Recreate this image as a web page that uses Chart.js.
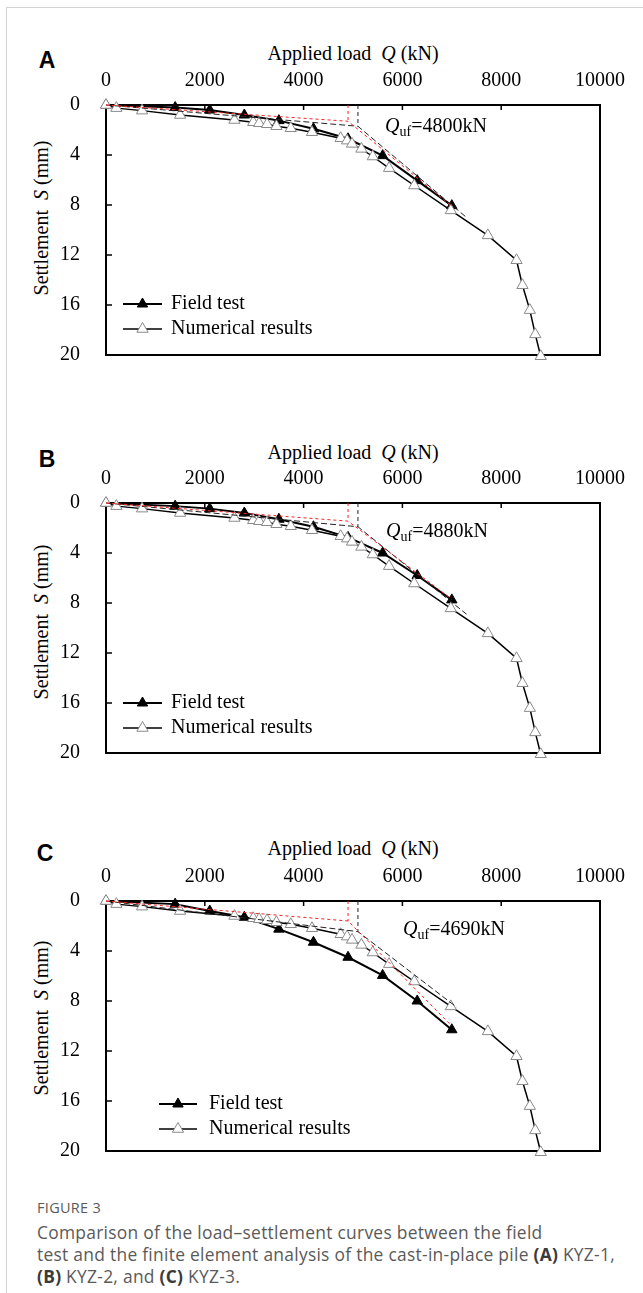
<!DOCTYPE html>
<html>
<head>
<meta charset="utf-8">
<title>Figure 3 - load-settlement curves</title>
<script src="https://cdn.jsdelivr.net/npm/chart.js@4.4.0/dist/chart.umd.min.js"></script>
<style>
    body { margin: 0; background: #fff; }
    #page { position: relative; width: 643px; height: 1293px; overflow: hidden; background: #fff; }
    .frame { position: absolute; left: 6px; top: 7px; width: 660px; height: 1300px;
             border-left: 1px solid #d2d2d2; border-top: 1px solid #d2d2d2; }
    .panel { position: absolute; left: 0; }
    .panel canvas { display: block; }
    .txt { position: absolute; white-space: nowrap; line-height: 1; color: #000;
           font-family: "Liberation Serif", "Times New Roman", serif; font-size: 20px; }
    .center { transform: translate(-50%, -50%); }
    .vert { transform: translate(-50%, -50%) rotate(-90deg); }
    .left { transform: translate(0, -50%); }
    .letter { position: absolute; transform: translate(-50%, -50%); line-height: 1;
              font: bold 23px "Liberation Sans", Arial, sans-serif; color: #000; }
    .txt sub { font-size: 14px; vertical-align: -4px; line-height: 0; }
    .cap-title { position: absolute; left: 37px; top: 1200px; font: 14.5px "Open Sans", sans-serif;
                 color: #5a5a5a; letter-spacing: 0.3px; line-height: 16px; }
    .cap-text { position: absolute; left: 37px; top: 1221px; font: 17.4px "Open Sans", sans-serif;
                color: #5a5a5a; line-height: 22px; white-space: nowrap; letter-spacing: 0.28px; }
    .cap-text b { color: #3a3a3a; }
</style>
</head>
<body>
<div id="page">
    <div class="frame"></div>

    <!-- Panel A -->
    <div class="letter" style="left:47px; top:60px;">A</div>
    <div class="txt center" style="left:353px; top:53px;">Applied load&nbsp; <i>Q</i> (kN)</div>
    <div class="txt vert" style="left:41px; top:218px;">Settlement&nbsp; <i>S</i> (mm)</div>
    <div class="panel" style="top:60px;"><canvas id="chartA" width="643" height="310"></canvas></div>
    <div class="txt left" style="left:385px; top:125px;"><i>Q</i><sub>uf</sub>=4800kN</div>

    <!-- Panel B -->
    <div class="letter" style="left:47px; top:459px;">B</div>
    <div class="txt center" style="left:353px; top:452px;">Applied load&nbsp; <i>Q</i> (kN)</div>
    <div class="txt vert" style="left:41px; top:622px;">Settlement&nbsp; <i>S</i> (mm)</div>
    <div class="panel" style="top:458px;"><canvas id="chartB" width="643" height="310"></canvas></div>
    <div class="txt left" style="left:386px; top:530px;"><i>Q</i><sub>uf</sub>=4880kN</div>

    <!-- Panel C -->
    <div class="letter" style="left:45px; top:853px;">C</div>
    <div class="txt center" style="left:353px; top:848px;">Applied load&nbsp; <i>Q</i> (kN)</div>
    <div class="txt vert" style="left:41px; top:1018px;">Settlement&nbsp; <i>S</i> (mm)</div>
    <div class="panel" style="top:856px;"><canvas id="chartC" width="643" height="310"></canvas></div>
    <div class="txt left" style="left:403px; top:928px;"><i>Q</i><sub>uf</sub>=4690kN</div>

    <!-- Caption -->
    <div class="cap-title">FIGURE 3</div>
    <div class="cap-text">Comparison of the load–settlement curves between the field<br>test and the finite element analysis of the cast-in-place pile <b>(A)</b> KYZ-1,<br><b>(B)</b> KYZ-2, and <b>(C)</b> KYZ-3.</div>
</div>

<script>
// Axis ticks
const loadTicks = [0, 2000, 4000, 6000, 8000, 10000];
const settleTicks = [0, 4, 8, 12, 16, 20];

// Field test (filled triangles), same load steps for all piles
const fieldLoad = [0, 1400, 2100, 2800, 3500, 4200, 4900, 5600, 6300, 7000];
const fieldSettleA = [0, 0.2, 0.4, 0.8, 1.25, 1.9, 2.7, 4.05, 6.05, 8.05];
const fieldSettleB = [0, 0.25, 0.45, 0.8, 1.3, 1.9, 2.75, 4.0, 5.8, 7.75];
const fieldSettleC = [0, 0.25, 0.8, 1.3, 2.25, 3.3, 4.5, 5.95, 8.0, 10.3];

// Numerical results (open triangles), identical in the three panels
const numLoad = [0, 210, 730, 1500, 2600, 2980, 3100, 3260, 3450, 3740, 4170, 4750, 4880,
                 4980, 5170, 5400, 5730, 6240, 6980, 7730, 8310, 8430, 8580, 8690, 8800];
const numSettle = [0, 0.25, 0.45, 0.8, 1.2, 1.38, 1.46, 1.54, 1.7, 1.86, 2.18, 2.66, 2.85,
                   3.11, 3.51, 4.12, 5.05, 6.44, 8.43, 10.43, 12.42, 14.42, 16.41, 18.35, 20.1];

// Tangent construction lines (red = field test, black = numerical)
const redLoadA = [0, 4900, 7000];
const redSettleA = [0, 1.3, 8.1];
const blackLoadA = [0, 5100, 7300];
const blackSettleA = [0, 1.7, 9.0];

const redLoadB = [0, 4900, 7000];
const redSettleB = [0, 1.45, 7.7];
const blackLoadB = [0, 5100, 7300];
const blackSettleB = [0, 1.9, 8.9];

const redLoadC = [0, 4900, 7000];
const redSettleC = [0, 1.6, 10.0];
const blackLoadC = [0, 5100, 7100];
const blackSettleC = [0, 2.45, 8.5];

const SERIF = '"Liberation Serif", "Times New Roman", serif';

// Build {x, y} points from two lists
function pairs(xs, ys) {
    return xs.map((x, i) => ({ x: x, y: ys[i] }));
}

// Vertical line from the knee of a tangent line up to S = 0
function kneeLine(loads, settles) {
    return [{ x: loads[1], y: 0 }, { x: loads[1], y: settles[1] }];
}

// Frame around the plot with inward tick marks
const framePlugin = {
    id: 'figFrame',
    beforeDatasetsDraw(chart) {
        const { ctx, chartArea: a, scales } = chart;
        ctx.save();
        ctx.strokeStyle = '#000';
        ctx.lineWidth = 2;
        ctx.strokeRect(a.left, a.top, a.right - a.left, a.bottom - a.top);
        ctx.lineWidth = 1.5;
        ctx.beginPath();
        loadTicks.slice(1, -1).forEach(v => {
            const x = scales.x.getPixelForValue(v);
            ctx.moveTo(x, a.top);
            ctx.lineTo(x, a.top + 5);
        });
        settleTicks.slice(1, -1).forEach(v => {
            const y = scales.y.getPixelForValue(v);
            ctx.moveTo(a.left, y);
            ctx.lineTo(a.left + 6, y);
        });
        ctx.stroke();
        ctx.restore();
    }
};

function triangle(ctx, x, y, r) {
    ctx.beginPath();
    for (let k = 0; k < 3; k++) {
        const rad = k * 2 * Math.PI / 3;
        const px = x + Math.sin(rad) * r;
        const py = y - Math.cos(rad) * r;
        if (k === 0) ctx.moveTo(px, py); else ctx.lineTo(px, py);
    }
    ctx.closePath();
}

// Legend drawn inside the plot area
const legendPlugin = {
    id: 'figLegend',
    afterDatasetsDraw(chart, args, opts) {
        const { ctx, chartArea: a } = chart;
        ctx.save();
        [0, 1].forEach(i => {
            const ds = chart.data.datasets[i];
            const y = a.top + opts.rows[i];
            ctx.strokeStyle = '#000';
            ctx.lineWidth = ds.borderWidth;
            ctx.beginPath();
            ctx.moveTo(opts.x0, y);
            ctx.lineTo(opts.x1, y);
            ctx.stroke();
            triangle(ctx, (opts.x0 + opts.x1) / 2, y, ds.pointRadius);
            ctx.fillStyle = ds.pointBackgroundColor;
            ctx.fill();
            ctx.lineWidth = 1;
            ctx.strokeStyle = ds.pointBorderColor;
            ctx.stroke();
            ctx.fillStyle = '#000';
            ctx.font = '20px ' + SERIF;
            ctx.textBaseline = 'middle';
            ctx.fillText(ds.label, opts.textX, y);
        });
        ctx.restore();
    }
};

function dashed(data, color, dash) {
    return {
        data: data, borderColor: color, borderWidth: 1, borderDash: dash,
        pointRadius: 0, clip: false, order: 0
    };
}

function makePanel(canvasId, fieldSettle, redLoad, redSettle, blackLoad, blackSettle, legend) {
    const ctx = document.getElementById(canvasId);
    return new Chart(ctx, {
        type: 'line',
        data: {
            datasets: [
                {
                    label: 'Field test',
                    data: pairs(fieldLoad, fieldSettle),
                    borderColor: '#000',
                    borderWidth: 2,
                    pointStyle: 'triangle',
                    pointRadius: 6,
                    pointBackgroundColor: '#000',
                    pointBorderColor: '#000',
                    pointBorderWidth: 1,
                    clip: false,
                    order: 2
                },
                {
                    label: 'Numerical results',
                    data: pairs(numLoad, numSettle),
                    borderColor: '#000',
                    borderWidth: 1.5,
                    pointStyle: 'triangle',
                    pointRadius: 6.5,
                    pointBackgroundColor: '#fff',
                    pointBorderColor: '#8a8a8a',
                    pointBorderWidth: 1,
                    clip: false,
                    order: 1
                },
                dashed(pairs(redLoad, redSettle), '#ff2020', [3, 3]),
                dashed(kneeLine(redLoad, redSettle), '#ff2020', [3, 3]),
                dashed(pairs(blackLoad, blackSettle), '#222', [6, 3]),
                dashed(kneeLine(blackLoad, blackSettle), '#222', [4, 3])
            ]
        },
        options: {
            responsive: false,
            animation: false,
            events: [],
            layout: { padding: { left: 0, right: 43, top: 0, bottom: 15 } },
            elements: { line: { tension: 0 } },
            plugins: {
                legend: { display: false },
                tooltip: { enabled: false },
                figLegend: legend
            },
            scales: {
                x: {
                    type: 'linear',
                    position: 'top',
                    min: 0,
                    max: 10000,
                    afterBuildTicks: s => { s.ticks = loadTicks.map(v => ({ value: v })); },
                    afterFit: s => { s.height = 45; },
                    grid: { display: false, drawTicks: false },
                    border: { display: false },
                    ticks: {
                        padding: 12,
                        color: '#000',
                        maxRotation: 0,
                        autoSkip: false,
                        font: { family: SERIF, size: 20 },
                        callback: v => String(v)
                    }
                },
                y: {
                    type: 'linear',
                    reverse: true,
                    min: 0,
                    max: 20,
                    afterBuildTicks: s => { s.ticks = settleTicks.map(v => ({ value: v })); },
                    // fixed axis width, and no extra top/bottom room from the tick padding
                    afterFit: s => { s.width = 106; s.paddingTop = 0; s.paddingBottom = 0; },
                    grid: { display: false, drawTicks: false },
                    border: { display: false },
                    ticks: {
                        padding: 26,
                        color: '#000',
                        autoSkip: false,
                        font: { family: SERIF, size: 20 },
                        callback: v => String(v)
                    }
                }
            }
        },
        plugins: [framePlugin, legendPlugin]
    });
}

makePanel('chartA', fieldSettleA, redLoadA, redSettleA, blackLoadA, blackSettleA,
    { x0: 123, x1: 162, textX: 171, rows: [199, 224] });
makePanel('chartB', fieldSettleB, redLoadB, redSettleB, blackLoadB, blackSettleB,
    { x0: 123, x1: 162, textX: 171, rows: [200, 225] });
makePanel('chartC', fieldSettleC, redLoadC, redSettleC, blackLoadC, blackSettleC,
    { x0: 159, x1: 197, textX: 209, rows: [203, 228] });
</script>
</body>
</html>
